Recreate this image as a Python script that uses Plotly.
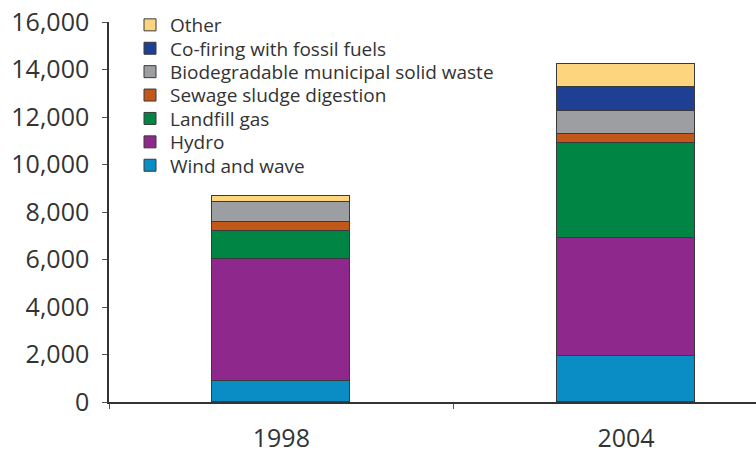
import plotly.graph_objects as go

years = ["1998", "2004"]

# Generation by source (stacked bottom to top)
wind_and_wave = [870, 1940]
hydro = [5160, 4950]
landfill_gas = [1180, 4010]
sewage_sludge = [380, 400]
biodegradable_msw = [840, 960]
co_firing = [0, 1020]
other = [250, 960]

series = [
    ("Wind and wave", wind_and_wave, "#0A8CC4"),
    ("Hydro", hydro, "#8E288C"),
    ("Landfill gas", landfill_gas, "#008544"),
    ("Sewage sludge digestion", sewage_sludge, "#C2571A"),
    ("Biodegradable municipal solid waste", biodegradable_msw, "#9C9EA1"),
    ("Co-firing with fossil fuels", co_firing, "#1F3F95"),
    ("Other", other, "#FDD57E"),
]

yticks = [0, 2000, 4000, 6000, 8000, 10000, 12000, 14000, 16000]

W, H = 756, 452
ML, MR, MT, MB = 109, 0, 22, 50
PW, PH = W - ML - MR, H - MT - MB
font_family = "Open Sans, Noto Sans, sans-serif"
text_color = "#333333"

fig = go.Figure()
n = len(series)
legend_layouts = {}
# One legend entry per source, listed top-down from "Other" with tight line spacing
for i, (name, vals, color) in enumerate(series):
    key = "legend" if i == 0 else f"legend{i + 1}"
    fig.add_trace(go.Bar(
        x=years, y=vals, name=name, legend=key,
        marker=dict(color=color, line=dict(color="#3a3a3a", width=1)),
        width=0.4,
    ))
    row = n - 1 - i
    center_px = 25 + row * 23.4
    legend_layouts[key] = dict(
        x=(130 - ML) / PW, y=(H - MB - center_px) / PH,
        xanchor="left", yanchor="middle",
        font=dict(size=19, color=text_color, family=font_family),
        bgcolor="rgba(0,0,0,0)",
        itemwidth=30,
    )

fig.update_layout(
    barmode="stack",
    width=W, height=H,
    margin=dict(l=ML, r=MR, t=MT, b=MB),
    paper_bgcolor="white", plot_bgcolor="white",
    font=dict(family=font_family, color=text_color),
    showlegend=True,
    bargap=0,
    **legend_layouts,
)

fig.update_xaxes(
    type="category",
    range=[-0.5, 1.377],
    showline=True, linecolor="#333333", linewidth=1.5,
    ticks="outside", tickson="boundaries", ticklen=5, tickcolor="#555555",
    tickfont=dict(size=25, color=text_color),
    ticklabelstandoff=13,
    automargin=False,
    showgrid=False, zeroline=False,
)

fig.update_yaxes(
    range=[0, 16000],
    tickvals=yticks,
    ticktext=[f"{v:,}" for v in yticks],
    showline=True, linecolor="#333333", linewidth=1.5,
    ticks="outside", ticklen=5, tickcolor="#555555",
    tickfont=dict(size=25, color=text_color),
    ticklabelstandoff=8,
    automargin=False,
    showgrid=False, zeroline=False,
)

fig.write_html("out.html")
